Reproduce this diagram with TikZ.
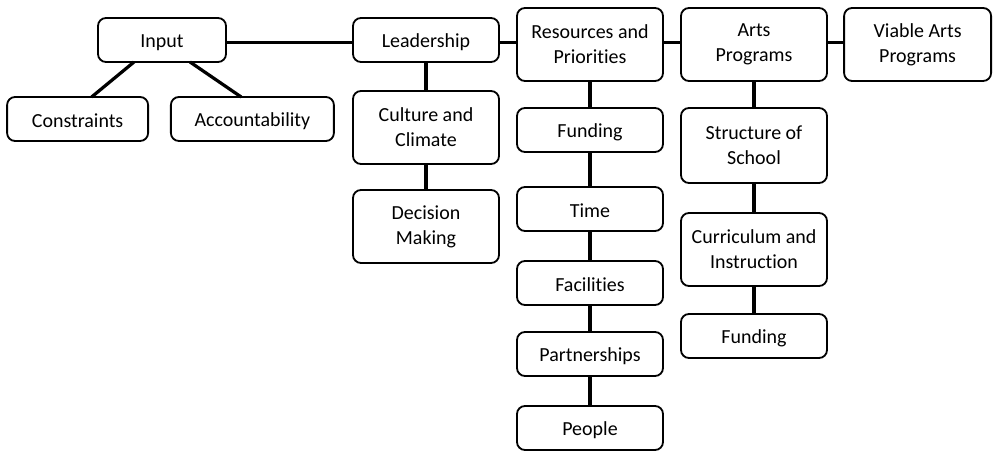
\documentclass[tikz,border=0pt]{standalone}
\usepackage{fontspec}
\setmainfont[Ligatures=NoCommon]{Carlito}
\usetikzlibrary{positioning}
\tikzset{
    boxbase/.style={draw, line width=1.3pt, rounded corners=0.2cm, align=center,
        minimum width=3.65cm, inner sep=2pt, outer sep=0pt},
    box/.style={boxbase, minimum height=1.1cm, text height=0.45cm},
    tallbox/.style={boxbase, minimum height=1.825cm},
    link/.style={line width=2.3pt}
}

\begin{document}
\begin{tikzpicture}[font=\fontsize{14.2}{17.7}\selectfont]
\useasboundingbox (0,0) rectangle (24.85,-11.3);

% ==== Input ====
\node[box, minimum width=3.2cm] (input) at (4.05,-1.0) {Input};
\node[box, minimum width=3.525cm] (constraints) at (1.94,-2.975) {Constraints};
\node[box, minimum width=4.075cm] (account) at (6.31,-2.975) {Accountability};

% ==== Leadership ====
\node[box] (leader) at (10.65,-1.0) {Leadership};
\node[tallbox, below=0.725cm of leader] (culture) {Culture and\\Climate};
\node[tallbox, below=0.65cm of culture] (decision) {Decision\\Making};

% ==== Resources and Priorities ====
\node[tallbox] (resources) at (14.75,-1.1125) {Resources and\\Priorities};
\node[box, below=0.675cm of resources] (funding) {Funding};
\node[box, below=0.875cm of funding] (time) {Time};
\node[box, below=0.75cm of time] (facilities) {Facilities};
\node[box, below=0.675cm of facilities] (partners) {Partnerships};
\node[box, below=0.75cm of partners] (people) {People};

% ==== Arts Programs ====
\node[tallbox] (arts) at (18.85,-1.1125) {Arts\\Programs};
\node[tallbox, minimum height=1.875cm, below=0.675cm of arts] (structure) {Structure of\\School};
\node[tallbox, below=0.75cm of structure] (curriculum) {Curriculum and\\Instruction};
\node[box, below=0.7cm of curriculum] (artsfunding) {Funding};

\node[tallbox, minimum width=3.675cm] (viable) at (22.94,-1.1125) {Viable Arts\\Programs};

% connectors
\draw[link] ([xshift=-0.7cm]input.south) -- ([xshift=0.35cm]constraints.north);
\draw[link] ([xshift=0.7cm]input.south) -- ([xshift=-0.28cm]account.north);
\draw[link] ([yshift=-0.07cm]input.east) -- ([yshift=-0.07cm]leader.west);
\draw[link] ([yshift=-0.07cm]leader.east) -- ([yshift=-0.07cm]leader.east -| resources.west);
\draw[link] ([yshift=-0.07cm]leader.east -| resources.east) -- ([yshift=-0.07cm]leader.east -| arts.west);
\draw[link] ([yshift=-0.07cm]leader.east -| arts.east) -- ([yshift=-0.07cm]leader.east -| viable.west);

\draw[link] (leader) -- (culture);
\draw[link] (culture) -- (decision);

\draw[link] (resources) -- (funding);
\draw[link] (funding) -- (time);
\draw[link] (time) -- (facilities);
\draw[link] (facilities) -- (partners);
\draw[link] (partners) -- (people);

\draw[link] (arts) -- (structure);
\draw[link] (structure) -- (curriculum);
\draw[link] (curriculum) -- (artsfunding);

\end{tikzpicture}
\end{document}
